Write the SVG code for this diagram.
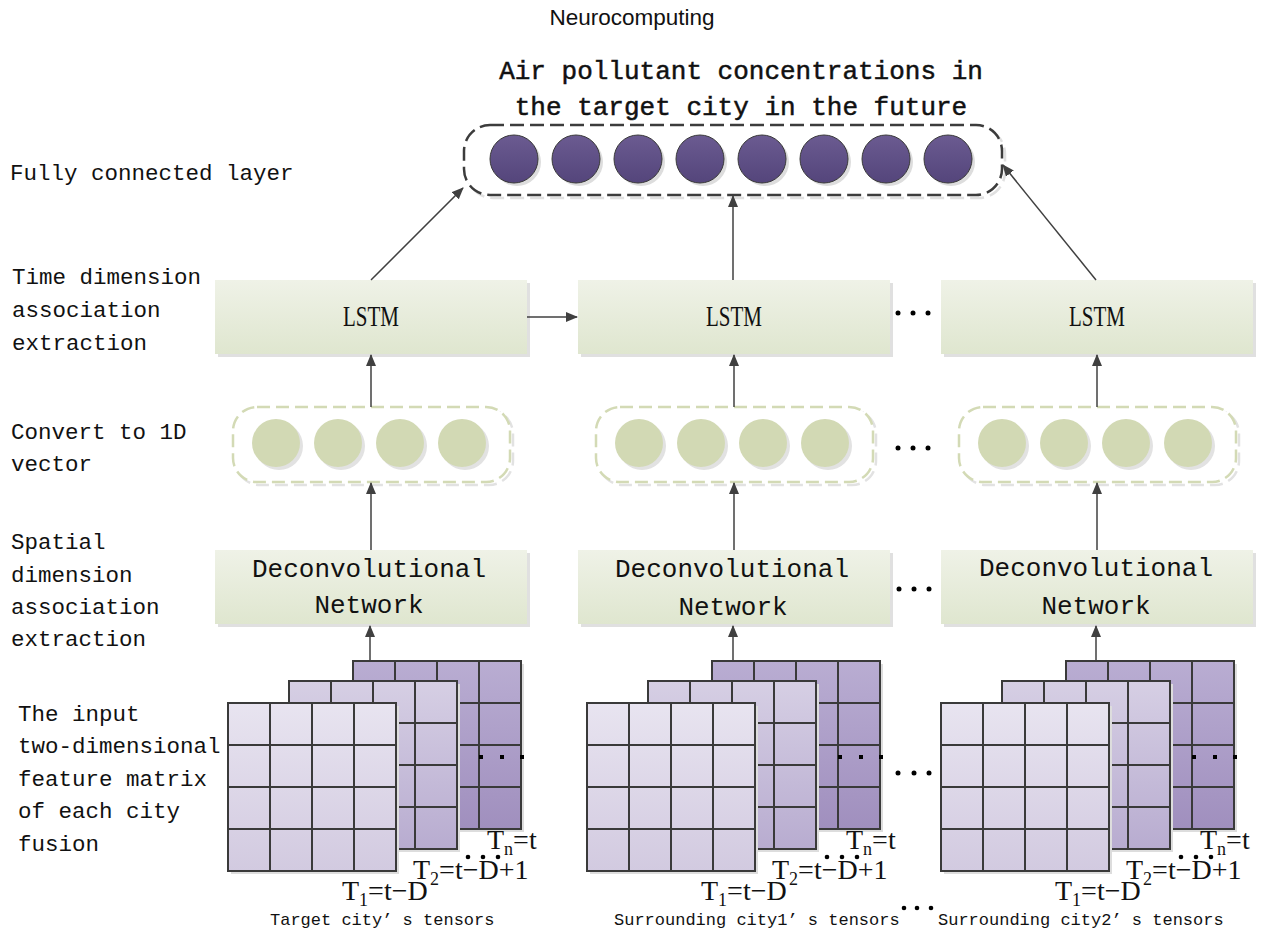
<svg xmlns="http://www.w3.org/2000/svg" xmlns:xlink="http://www.w3.org/1999/xlink" width="1264" height="932" viewBox="0 0 1264 932">
<style>
.lbl{font-family:"Liberation Mono",monospace;font-size:22.5px;fill:#111}
.box{font-family:"Liberation Mono",monospace;font-size:26px;fill:#111;text-anchor:middle}
.lstm{font-family:"Liberation Serif",serif;font-size:29px;fill:#111;text-anchor:middle}
.tl{font-family:"Liberation Serif",serif;font-size:28px;fill:#111}
.cap{font-family:"Liberation Mono",monospace;font-size:17px;fill:#111}
.conn line{stroke:#404040;stroke-width:1.5}
.dot{fill:#000}
.gl{stroke:#3a3a3a;stroke-width:2}
</style>
<defs>
<marker id="ah" markerWidth="12" markerHeight="10" refX="11" refY="5" orient="auto" markerUnits="userSpaceOnUse">
<path d="M0,0 L12,5 L0,10 Z" fill="#404040"/>
</marker>
<linearGradient id="gbox" x1="0" y1="0" x2="0" y2="1"><stop offset="0" stop-color="#eff2e7"/><stop offset="1" stop-color="#dfe6cf"/></linearGradient>
<linearGradient id="gfc" x1="0" y1="0" x2="0" y2="1"><stop offset="0" stop-color="#6b5b91"/><stop offset="1" stop-color="#54457b"/></linearGradient>
<linearGradient id="gf" x1="0" y1="0" x2="0" y2="1"><stop offset="0" stop-color="#e8e4f0"/><stop offset="1" stop-color="#d2cae0"/></linearGradient>
<linearGradient id="gm" x1="0" y1="0" x2="0" y2="1"><stop offset="0" stop-color="#d6cfe4"/><stop offset="1" stop-color="#b8acd0"/></linearGradient>
<linearGradient id="gb" x1="0" y1="0" x2="0" y2="1"><stop offset="0" stop-color="#b9add2"/><stop offset="1" stop-color="#a08fbe"/></linearGradient>
<g id="lines">
<path class="gl" fill="none" d="M0,0 H168 V168 H0 Z M42,0 V168 M84,0 V168 M126,0 V168 M0,42 H168 M0,84 H168 M0,126 H168"/>
</g>
<g id="stack">
<rect x="128" y="-39" width="168" height="168" fill="#ddd"/>
<rect x="125" y="-42" width="168" height="168" fill="url(#gb)"/>
<use xlink:href="#lines" x="125" y="-42"/>
<rect x="64" y="-19" width="168" height="168" fill="#ddd"/>
<rect x="61" y="-22" width="168" height="168" fill="url(#gm)"/>
<use xlink:href="#lines" x="61" y="-22"/>
<rect x="3" y="3" width="168" height="168" fill="#ddd"/>
<rect x="0" y="0" width="168" height="168" fill="url(#gf)"/>
<use xlink:href="#lines" x="0" y="0"/>
<rect x="251" y="52" width="4" height="4" class="dot"/>
<rect x="272" y="52" width="4" height="4" class="dot"/>
<rect x="292" y="52" width="4" height="4" class="dot"/>
<circle cx="240" cy="154" r="2.3" class="dot"/>
<circle cx="255" cy="154" r="2.3" class="dot"/>
<circle cx="270" cy="154" r="2.3" class="dot"/>
<text class="tl" x="259" y="146">T<tspan font-size="18" dy="6">n</tspan><tspan dy="-6">=t</tspan></text>
<text class="tl" x="185" y="176">T<tspan font-size="18" dy="6">2</tspan><tspan dy="-6">=t−D+1</tspan></text>
<text class="tl" x="114" y="197">T<tspan font-size="18" dy="6">1</tspan><tspan dy="-6">=t−D</tspan></text>
</g>
<g id="vec">
<rect x="3" y="3" width="277" height="75" rx="24" fill="none" stroke="#e2e2e2" stroke-width="2.5" stroke-dasharray="13 6"/>
<rect x="0" y="0" width="277" height="75" rx="24" fill="#fff" stroke="#d3dab5" stroke-width="2.5" stroke-dasharray="13 6"/>
<circle cx="46" cy="39" r="24" fill="#e2e2e2"/><circle cx="43" cy="36" r="24" fill="#d2d9b4"/>
<circle cx="108" cy="39" r="24" fill="#e2e2e2"/><circle cx="105" cy="36" r="24" fill="#d2d9b4"/>
<circle cx="170" cy="39" r="24" fill="#e2e2e2"/><circle cx="167" cy="36" r="24" fill="#d2d9b4"/>
<circle cx="232" cy="39" r="24" fill="#e2e2e2"/><circle cx="229" cy="36" r="24" fill="#d2d9b4"/>
</g>
<g id="bx">
<rect x="3" y="3" width="312" height="74" fill="#e0e0e0"/>
<rect x="0" y="0" width="312" height="74" fill="url(#gbox)"/>
</g>
</defs>
<rect width="1264" height="932" fill="#fff"/>
<text x="632" y="25" text-anchor="middle" style="font-family:'Liberation Sans',sans-serif;font-size:22.5px;fill:#111">Neurocomputing</text>
<g id="title">
<text class="box" x="741" y="79" stroke="#111" stroke-width="0.5">Air pollutant concentrations in</text>
<text class="box" x="741" y="115" stroke="#111" stroke-width="0.5">the target city in the future</text>
</g>
<g id="labels">
<text class="lbl" x="10" y="180">Fully connected layer</text>
<text class="lbl" x="12" y="284">Time dimension</text>
<text class="lbl" x="12" y="317">association</text>
<text class="lbl" x="12" y="350">extraction</text>
<text class="lbl" x="11" y="439">Convert to 1D</text>
<text class="lbl" x="11" y="471">vector</text>
<text class="lbl" x="11" y="549">Spatial</text>
<text class="lbl" x="11" y="582">dimension</text>
<text class="lbl" x="11" y="614">association</text>
<text class="lbl" x="11" y="646">extraction</text>
<text class="lbl" x="18" y="721">The input</text>
<text class="lbl" x="18" y="753">two-dimensional</text>
<text class="lbl" x="18" y="786">feature matrix</text>
<text class="lbl" x="18" y="818">of each city</text>
<text class="lbl" x="18" y="851">fusion</text>
</g>
<g id="fc">
<rect x="467" y="128" width="538" height="70" rx="26" fill="none" stroke="#e0e0e0" stroke-width="2.5" stroke-dasharray="14 6"/>
<rect x="464" y="125" width="538" height="70" rx="26" fill="#fff" stroke="#3c3c3c" stroke-width="2.5" stroke-dasharray="14 6"/>
<g stroke="#3a3a3a" stroke-width="1">
<circle cx="517" cy="162" r="24" fill="#ddd" stroke="none"/><circle cx="514" cy="159" r="24" fill="url(#gfc)"/>
<circle cx="579" cy="162" r="24" fill="#ddd" stroke="none"/><circle cx="576" cy="159" r="24" fill="url(#gfc)"/>
<circle cx="641" cy="162" r="24" fill="#ddd" stroke="none"/><circle cx="638" cy="159" r="24" fill="url(#gfc)"/>
<circle cx="703" cy="162" r="24" fill="#ddd" stroke="none"/><circle cx="700" cy="159" r="24" fill="url(#gfc)"/>
<circle cx="765" cy="162" r="24" fill="#ddd" stroke="none"/><circle cx="762" cy="159" r="24" fill="url(#gfc)"/>
<circle cx="827" cy="162" r="24" fill="#ddd" stroke="none"/><circle cx="824" cy="159" r="24" fill="url(#gfc)"/>
<circle cx="889" cy="162" r="24" fill="#ddd" stroke="none"/><circle cx="886" cy="159" r="24" fill="url(#gfc)"/>
<circle cx="951" cy="162" r="24" fill="#ddd" stroke="none"/><circle cx="948" cy="159" r="24" fill="url(#gfc)"/>
</g>
</g>
<g id="lstm1"><use xlink:href="#bx" x="215" y="280"/><text class="lstm" x="371" y="326" textLength="56" lengthAdjust="spacingAndGlyphs">LSTM</text></g>
<g id="lstm2"><use xlink:href="#bx" x="578" y="280"/><text class="lstm" x="734" y="326" textLength="56" lengthAdjust="spacingAndGlyphs">LSTM</text></g>
<g id="lstm3"><use xlink:href="#bx" x="941" y="280"/><text class="lstm" x="1097" y="326" textLength="56" lengthAdjust="spacingAndGlyphs">LSTM</text></g>
<g id="vec1"><use xlink:href="#vec" x="233" y="407"/></g>
<g id="vec2"><use xlink:href="#vec" x="596" y="407"/></g>
<g id="vec3"><use xlink:href="#vec" x="959" y="407"/></g>
<g id="deconv1"><use xlink:href="#bx" x="215" y="550"/><text class="box" x="369" y="577">Deconvolutional</text><text class="box" x="369" y="613">Network</text></g>
<g id="deconv2"><use xlink:href="#bx" x="578" y="550"/><text class="box" x="732" y="577">Deconvolutional</text><text class="box" x="733" y="615">Network</text></g>
<g id="deconv3"><use xlink:href="#bx" x="941" y="550"/><text class="box" x="1096" y="576">Deconvolutional</text><text class="box" x="1096" y="614">Network</text></g>
<g id="tensors1"><use xlink:href="#stack" x="228" y="703"/><text class="cap" x="270" y="925">Target city’ s tensors</text></g>
<g id="tensors2"><use xlink:href="#stack" x="587" y="703"/><text class="cap" x="614" y="925">Surrounding city1’ s tensors</text></g>
<g id="tensors3"><use xlink:href="#stack" x="941" y="703"/><text class="cap" x="938" y="925">Surrounding city2’ s tensors</text></g>
<g id="ellipses">
<circle cx="898" cy="313" r="2.5" class="dot"/><circle cx="913" cy="313" r="2.5" class="dot"/><circle cx="928" cy="313" r="2.5" class="dot"/>
<circle cx="898" cy="448" r="2.5" class="dot"/><circle cx="913" cy="448" r="2.5" class="dot"/><circle cx="928" cy="448" r="2.5" class="dot"/>
<circle cx="899" cy="589" r="2.5" class="dot"/><circle cx="914" cy="589" r="2.5" class="dot"/><circle cx="929" cy="589" r="2.5" class="dot"/>
<circle cx="898" cy="773" r="2.5" class="dot"/><circle cx="914" cy="773" r="2.5" class="dot"/><circle cx="929" cy="773" r="2.5" class="dot"/>
<circle cx="904" cy="908" r="2.3" class="dot"/><circle cx="917" cy="908" r="2.3" class="dot"/><circle cx="931" cy="908" r="2.3" class="dot"/>
</g>
<g id="connectors" class="conn">
<line x1="371" y1="280" x2="463" y2="188" marker-end="url(#ah)"/>
<line x1="733" y1="280" x2="733" y2="196" marker-end="url(#ah)"/>
<line x1="1096" y1="280" x2="1003" y2="165" marker-end="url(#ah)"/>
<line x1="527" y1="317" x2="577" y2="317" marker-end="url(#ah)"/>
<line x1="371" y1="407" x2="371" y2="355" marker-end="url(#ah)"/>
<line x1="734" y1="407" x2="734" y2="355" marker-end="url(#ah)"/>
<line x1="1097" y1="407" x2="1097" y2="355" marker-end="url(#ah)"/>
<line x1="371" y1="550" x2="371" y2="483" marker-end="url(#ah)"/>
<line x1="734" y1="550" x2="734" y2="483" marker-end="url(#ah)"/>
<line x1="1097" y1="550" x2="1097" y2="483" marker-end="url(#ah)"/>
<line x1="370" y1="660" x2="370" y2="626" marker-end="url(#ah)"/>
<line x1="733" y1="660" x2="733" y2="626" marker-end="url(#ah)"/>
<line x1="1096" y1="660" x2="1096" y2="626" marker-end="url(#ah)"/>
</g>
</svg>
